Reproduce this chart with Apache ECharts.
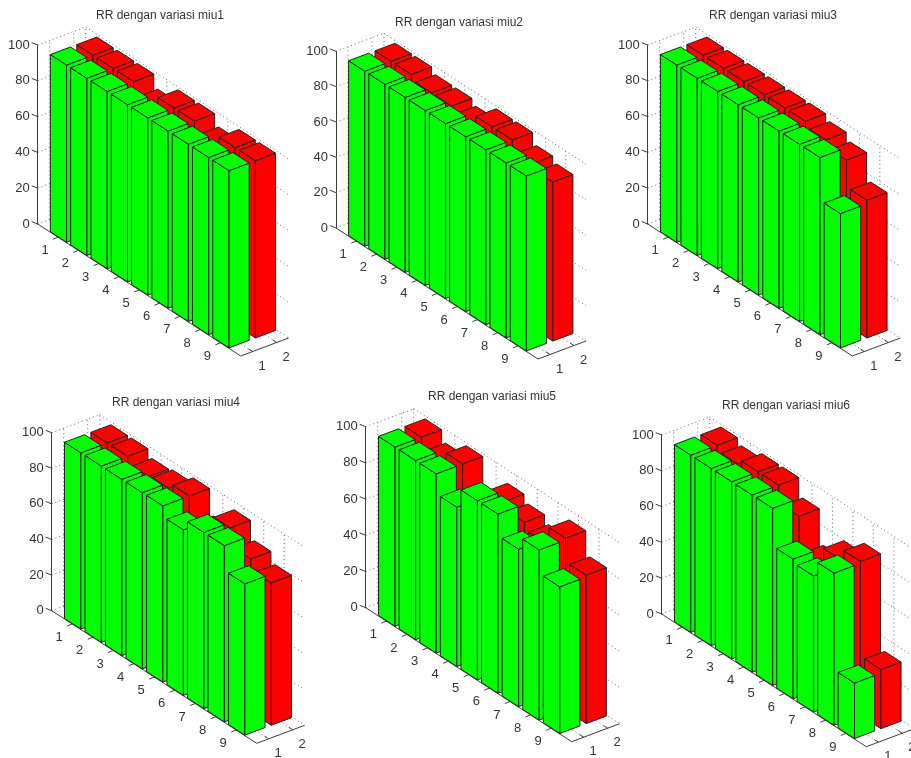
<!DOCTYPE html>
<html>
<head>
<meta charset="utf-8">
<style>html,body{margin:0;padding:0;background:#fff}#c{width:911px;height:758px}</style>
<script src="https://cdn.jsdelivr.net/npm/echarts@6/dist/echarts.min.js"></script>
</head>
<body>
<div id="c"></div>
<script>
// ---- chart data ----
const rowLabels = [1,2,3,4,5,6,7,8,9];
const depthLabels = [1,2];
const valueTicks = [0,20,40,60,80,100];
const titles = ['RR dengan variasi miu1','RR dengan variasi miu2','RR dengan variasi miu3','RR dengan variasi miu4','RR dengan variasi miu5','RR dengan variasi miu6'];
const greenMiu1 = [99,99,99,99,99,99,99,99,99];
const redMiu1   = [99,99,99,92,99,99,93,99,99];
const greenMiu2 = [99,99,99,99,99,99,99,99,99];
const redMiu2   = [99,99,96,96,93,99,99,93,90];
const greenMiu3 = [99,99,99,99,99,99,99,99,75];
const redMiu3   = [99,99,99,99,99,99,96,92,77];
const greenMiu4 = [99,99,99,99,99,93,99,99,85];
const redMiu4   = [99,99,95,96,99,85,96,86,80];
const greenMiu5 = [99,99,99,88,99,99,87,94,81];
const redMiu5   = [99,93,99,80,93,89,85,95,82];
const greenMiu6 = [99,99,99,99,99,78,76,85,31];
const redMiu6   = [99,96,99,99,89,70,80,86,33];
const greens = [greenMiu1,greenMiu2,greenMiu3,greenMiu4,greenMiu5,greenMiu6];
const reds   = [redMiu1,redMiu2,redMiu3,redMiu4,redMiu5,redMiu6];

// ---- layout of the six panels: axis foot, floor run, axis height, title centre ----
const layout = [
  {x:37.7, y:224,   dx:203, dy:132,   h:179,   tx:160, ty:16},
  {x:336,  y:228,   dx:202, dy:131,   h:176.7, tx:459, ty:23},
  {x:647.7,y:224,   dx:204.6,dy:132,  h:179,   tx:773, ty:16},
  {x:51.7, y:610.7, dx:205, dy:132.6, h:178,   tx:176, ty:403},
  {x:365.7,y:607.7, dx:206, dy:134,   h:181,   tx:492, ty:397},
  {x:661.7,y:614,   dx:204.6,dy:132.7,h:179,   tx:786, ty:406}
];
const DEPTH = {x:24, y:-9};        // screen run of one depth unit
const HALF = 0.4;                  // half bar width along the rows
const HALF_D = 0.42;               // half bar width along the depth
const TEXT = '#333', AXIS = '#3c3c3c', DOT = '#666';
const FONT = '"Liberation Sans", Arial, sans-serif';

function projector(api, L){
  // row r, depth d (0..2), value v -> screen, through the grid's own scales
  return function(r,d,v){
    const p = api.coord([r,v]);
    const f = api.coord([r,0]);
    const sl = (f[0]-L.x)*L.dy/L.dx;
    return [p[0]+d*DEPTH.x, p[1]+sl+d*DEPTH.y];
  };
}
function line(a,b,style){ return {type:'line',shape:{x1:a[0],y1:a[1],x2:b[0],y2:b[1]},style:style,silent:true}; }
function text(p,s,size){ return {type:'text',x:p[0],y:p[1],style:{text:String(s),fill:TEXT,font:size+'px '+FONT,textAlign:'center',textVerticalAlign:'middle'},silent:true}; }

function frameRender(L){
  return function(params, api){
    const P = projector(api,L), ch = [];
    const dot = {stroke:DOT,lineWidth:1,lineDash:[1,3]};
    const ax = {stroke:AXIS,lineWidth:1};
    // dotted grid on the two walls and the floor
    valueTicks.forEach(v=>{
      ch.push(line(P(0,0,v),P(0,2,v),dot));
      ch.push(line(P(0,2,v),P(10,2,v),dot));
    });
    rowLabels.forEach(r=>{
      ch.push(line(P(r,2,0),P(r,2,100),dot));
      ch.push(line(P(r,0,0),P(r,2,0),dot));
    });
    depthLabels.forEach(dl=>{
      const d = dl-0.5;
      ch.push(line(P(0,d,0),P(0,d,100),dot));
      ch.push(line(P(0,d,0),P(10,d,0),dot));
    });
    ch.push(line(P(0,2,0),P(0,2,100),dot));
    // slanted axes with ticks and labels
    ch.push(line(P(0,0,0),P(10,0,0),ax));
    ch.push(line(P(10,0,0),P(10,2,0),ax));
    rowLabels.forEach(r=>{
      const a = P(r,0,0);
      ch.push(line(a,[a[0]-5,a[1]+2],ax));
      ch.push(text([a[0]-13,a[1]+13.5],r,13));
    });
    depthLabels.forEach(dl=>{
      const a = P(10,dl-0.5,0);
      ch.push(line(a,[a[0]-4,a[1]-2.6],ax));
      ch.push(text([a[0]+9.5,a[1]+14.5],dl,13));
    });
    valueTicks.forEach(v=>{
      const a = P(0,0,v);
      ch.push(line(a,[a[0]-6,a[1]-2.4],ax));
    });
    return {type:'group',children:ch};
  };
}
function barRender(L,depth,color){
  return function(params, api){
    const P = projector(api,L);
    const r = api.value(0), v = api.value(1);
    const r0=r-HALF, r1=r+HALF, d0=depth-HALF_D, d1=depth+HALF_D;
    const st = {fill:color,stroke:'#222',lineWidth:1,lineJoin:'round'};
    const poly = pts => ({type:'polygon',shape:{points:pts},style:st});
    return {type:'group',children:[
      poly([P(r0,d0,0),P(r1,d0,0),P(r1,d0,v),P(r0,d0,v)]),
      poly([P(r1,d0,0),P(r1,d1,0),P(r1,d1,v),P(r1,d0,v)]),
      poly([P(r0,d0,v),P(r1,d0,v),P(r1,d1,v),P(r0,d1,v)])
    ]};
  };
}

const grid=[], xAxis=[], yAxis=[], series=[], title=[];
layout.forEach((L,k)=>{
  grid.push({left:L.x, top:L.y-L.h, width:L.dx, height:L.h, containLabel:false});
  xAxis.push({gridIndex:k,type:'value',min:0,max:10,show:false});
  yAxis.push({gridIndex:k,type:'value',min:0,max:100,interval:20,position:'left',
    axisLine:{show:true,onZero:false,lineStyle:{color:AXIS,width:1}},
    axisTick:{show:false},splitLine:{show:false},
    axisLabel:{show:true,margin:8,color:TEXT,fontSize:13,fontFamily:FONT}});
  title.push({text:titles[k],left:L.tx,top:L.ty-6,padding:0,textAlign:'center',
    textStyle:{color:TEXT,fontSize:12,fontWeight:'normal',fontFamily:FONT}});
  series.push({type:'custom',xAxisIndex:k,yAxisIndex:k,z:1,silent:true,animation:false,clip:false,
    data:[[0,0]],encode:{x:0,y:1},renderItem:frameRender(L)});
  series.push({type:'custom',xAxisIndex:k,yAxisIndex:k,z:2,silent:true,animation:false,clip:false,
    data:reds[k].map((v,i)=>[rowLabels[i],v]),encode:{x:0,y:1},renderItem:barRender(L,1.54,'#ff0000')});
  series.push({type:'custom',xAxisIndex:k,yAxisIndex:k,z:3,silent:true,animation:false,clip:false,
    data:greens[k].map((v,i)=>[rowLabels[i],v]),encode:{x:0,y:1},renderItem:barRender(L,0.44,'#00ff00')});
});
const chart = echarts.init(document.getElementById('c'),null,{renderer:'canvas'});
chart.setOption({animation:false,backgroundColor:'#fff',title,grid,xAxis,yAxis,series});
</script>
</body>
</html>
